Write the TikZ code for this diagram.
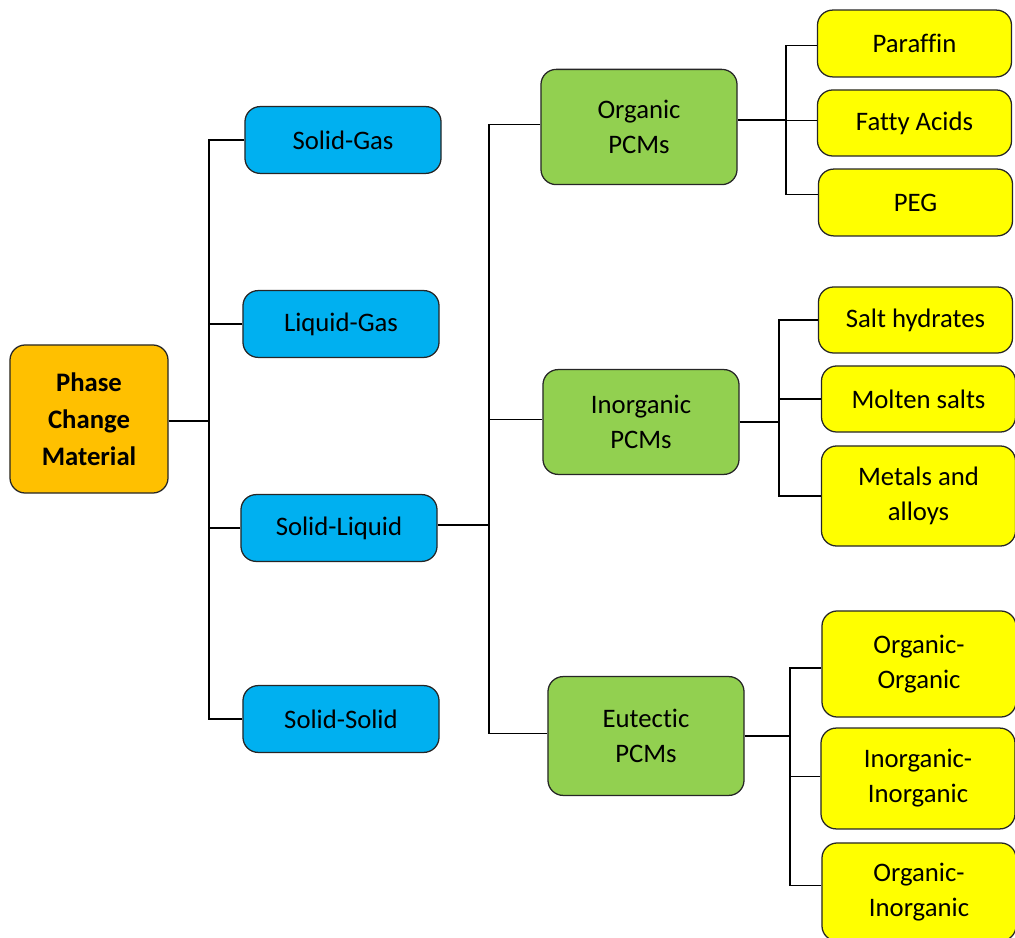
\documentclass[tikz,border=0pt]{standalone}
\usepackage{fontspec}
\setmainfont{Carlito}[Ligatures=NoCommon]
\usetikzlibrary{positioning}
\definecolor{PcmOrange}{HTML}{FFC000}
\definecolor{PcmBlue}{HTML}{00B0F0}
\definecolor{PcmGreen}{HTML}{92D050}
\definecolor{PcmYellow}{HTML}{FFFF00}

\tikzset{
  box/.style={draw=black!85, line width=0.9pt, rounded corners=0.38cm, align=center,
              inner sep=0pt, font=\fontsize{19}{25}\selectfont},
  rootbox/.style={box, fill=PcmOrange, minimum width=3.95cm, minimum height=3.7cm,
                  font=\fontsize{19}{26.5}\selectfont\bfseries},
  statebox/.style={box, fill=PcmBlue, minimum width=4.9cm, minimum height=1.67cm},
  pcmbox/.style={box, fill=PcmGreen, minimum width=4.9cm},
  leafbox/.style={box, fill=PcmYellow, minimum width=4.85cm},
  link/.style={draw=black, line width=0.8pt}
}

\begin{document}
\begin{tikzpicture}[x=0.025cm, y=-0.025cm]
    \useasboundingbox (0,0) rectangle (1015,938);
    \clip (0,0) rectangle (1015,938);

    % root
    \node[rootbox] (pcm) at (89,419) {Phase\\Change\\Material};

    % phase change states
    \node[statebox] (sg) at (343,140) {Solid-Gas};
    \node[statebox] (lg) at (341,324) {Liquid-Gas};
    \node[statebox] (sl) at (339,528) {Solid-Liquid};
    \node[statebox] (ss) at (341,719) {Solid-Solid};

    % solid-liquid groups
    \node[pcmbox, minimum height=2.88cm] (org) at (639,127) {Organic\\PCMs};
    \node[pcmbox, minimum height=2.62cm] (inorg) at (641,422) {Inorganic\\PCMs};
    \node[pcmbox, minimum height=2.97cm] (eut) at (646,736) {Eutectic\\PCMs};

    % organic
    \node[leafbox, minimum height=1.67cm] (paraffin) at (914.5,43.5) {Paraffin};
    \node[leafbox, minimum height=1.65cm] (fatty) at (914.5,123) {Fatty Acids};
    \node[leafbox, minimum height=1.67cm] (peg) at (915.5,202.5) {PEG};

    % inorganic
    \node[leafbox, minimum height=1.65cm] (salt) at (915.5,320) {Salt hydrates};
    \node[leafbox, minimum height=1.65cm] (molten) at (918.5,399) {Molten salts};
    \node[leafbox, minimum height=2.5cm] (metal) at (918.5,496) {Metals and\\alloys};

    % eutectic
    \node[leafbox, minimum height=2.65cm] (oo) at (919,664) {Organic-\\Organic};
    \node[leafbox, minimum height=2.52cm] (ii) at (918,778.5) {Inorganic-\\Inorganic};
    \node[leafbox, minimum height=2.45cm] (oi) at (919,892) {Organic-\\Inorganic};

    % junctions
    \coordinate (jroot) at (209,421);
    \coordinate (jsl) at (489,525);
    \coordinate (jorg) at (786,120);
    \coordinate (jinorg) at (779,422);
    \coordinate (jeut) at (790,736);

    \draw[link] (pcm.east |- jroot) -- (jroot);
    \foreach \n in {sg,lg,sl,ss}
        \draw[link] (\n.west) -| (jroot);

    \draw[link] (sl.east |- jsl) -- (jsl);
    \foreach \n in {org,inorg,eut}
        \draw[link] ([yshift=0.07cm]\n.west) -| (jsl);

    \draw[link] (org.east |- jorg) -- (jorg);
    \draw[link] ([yshift=-0.04cm]paraffin.west) -| (jorg);
    \draw[link] ([yshift=0.07cm]fatty.west) -| (jorg);
    \draw[link] ([yshift=0.19cm]peg.west) -| (jorg);

    \draw[link] (inorg.east |- jinorg) -- (jinorg);
    \draw[link] (salt.west) -| (jinorg);
    \draw[link] (molten.west) -| (jinorg);
    \draw[link] (metal.west) -| (jinorg);

    \draw[link] (eut.east |- jeut) -- (jeut);
    \draw[link] ([yshift=-0.1cm]oo.west) -| (jeut);
    \draw[link] ([yshift=0.04cm]ii.west) -| (jeut);
    \draw[link] ([yshift=0.17cm]oi.west) -| (jeut);
\end{tikzpicture}
\end{document}
